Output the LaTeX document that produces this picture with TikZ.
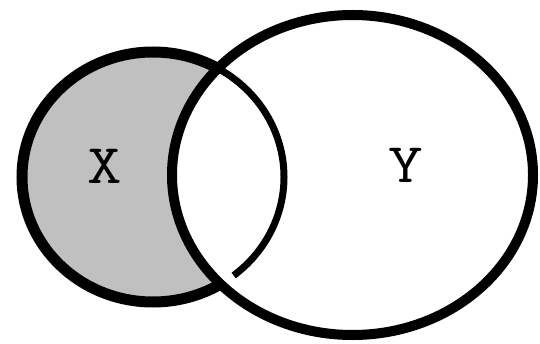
\documentclass[tikz,border=0pt]{standalone}
\usetikzlibrary{positioning}

\begin{document}
\begin{tikzpicture}[
    x=1pt, y=1pt,
    setx/.style={fill={rgb,255:red,192;green,192;blue,192}},
    outer/.style={draw, line width=11pt},
    inner/.style={draw, line width=7pt},
    sety/.style={draw, line width=10pt},
    lbl/.style={font=\ttfamily\fontsize{56}{56}\selectfont, inner sep=0pt, xscale=1.2}
]
\useasboundingbox (0,0) rectangle (540,343);
\coordinate (xc) at (153,166);
\coordinate (yc) at (352.5,168);

\fill[setx] (xc) ellipse [x radius=131, y radius=125];
\draw[outer] (xc) ellipse [x radius=131, y radius=125];
\fill[white] (yc) ellipse [x radius=180.5, y radius=160];
\draw[inner, shift={(xc)}] (60:131 and 125) arc[start angle=60, end angle=-52, x radius=131, y radius=125];
\draw[sety] (yc) ellipse [x radius=180.5, y radius=160];

\node[lbl] (labelx) at (105,177) {X};
\node[lbl] (labely) at (406,178) {Y};
\end{tikzpicture}
\end{document}
